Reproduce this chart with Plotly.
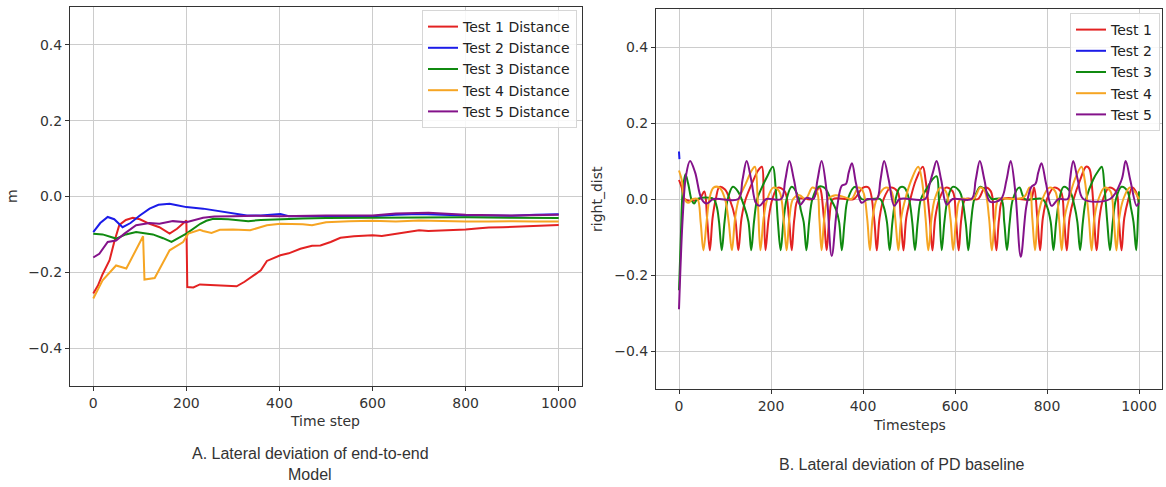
import plotly.graph_objects as go

# ---------------- Panel A: end-to-end model (Time step vs m) ----------------
a_t1_t = [0,10,20,35,45,56,70,85,100,121,142,164,180,200,202,215,229,260,290,308,325,344,360,373,390,402,420,445,470,488,510,531,560,580,600,620,650,680,700,720,750,780,800,830,850,880,900,930,950,980,1000]
a_t1_v = [-0.256,-0.235,-0.205,-0.168,-0.12,-0.075,-0.062,-0.056,-0.06,-0.072,-0.081,-0.098,-0.085,-0.063,-0.239,-0.24,-0.232,-0.234,-0.236,-0.237,-0.225,-0.208,-0.195,-0.17,-0.16,-0.155,-0.15,-0.138,-0.13,-0.129,-0.12,-0.109,-0.105,-0.103,-0.102,-0.104,-0.098,-0.092,-0.089,-0.091,-0.09,-0.088,-0.087,-0.084,-0.082,-0.081,-0.08,-0.079,-0.079,-0.077,-0.075]

a_t2_t = [0,15,31,45,63,80,100,121,140,164,180,200,236,272,308,330,360,402,420,450,500,550,600,650,700,750,800,850,900,950,1000]
a_t2_v = [-0.094,-0.07,-0.054,-0.06,-0.081,-0.07,-0.05,-0.032,-0.022,-0.019,-0.023,-0.028,-0.032,-0.039,-0.046,-0.05,-0.05,-0.046,-0.052,-0.052,-0.051,-0.052,-0.052,-0.048,-0.046,-0.048,-0.05,-0.05,-0.051,-0.048,-0.047]

a_t3_t = [0,20,49,70,92,128,150,168,200,230,243,258,290,333,360,400,450,500,600,700,800,900,1000]
a_t3_v = [-0.098,-0.1,-0.111,-0.1,-0.094,-0.1,-0.11,-0.12,-0.098,-0.072,-0.064,-0.059,-0.06,-0.065,-0.062,-0.06,-0.058,-0.057,-0.056,-0.056,-0.055,-0.056,-0.057]

a_t4_t = [0,20,49,71,107,110,132,150,164,193,204,229,236,254,272,300,337,373,402,450,470,500,550,600,650,700,750,800,850,900,950,1000]
a_t4_v = [-0.269,-0.221,-0.182,-0.19,-0.105,-0.219,-0.215,-0.175,-0.142,-0.12,-0.098,-0.088,-0.091,-0.096,-0.088,-0.087,-0.089,-0.076,-0.072,-0.073,-0.076,-0.068,-0.065,-0.064,-0.066,-0.063,-0.065,-0.066,-0.066,-0.065,-0.066,-0.066]

a_t5_t = [0,13,31,49,67,92,121,142,171,200,236,260,300,350,400,450,500,600,650,720,800,900,1000]
a_t5_v = [-0.161,-0.151,-0.12,-0.116,-0.098,-0.076,-0.07,-0.072,-0.065,-0.068,-0.056,-0.053,-0.052,-0.051,-0.052,-0.051,-0.05,-0.05,-0.045,-0.043,-0.048,-0.05,-0.048]

a_names = ["Test 1 Distance", "Test 2 Distance", "Test 3 Distance", "Test 4 Distance", "Test 5 Distance"]

# ---------------- Panel B: PD baseline (Timesteps vs right_dist) ----------------
b_t1_t = [0,6,12,25,45,55,61,67,73,80,88,100,110,122,129,136,145,160,172,180,184,188,195,203,215,230,239,245,251,260,290,305,315,321,327,335,360,380,400,412,424,430,436,445,460,475,482,488,494,503,515,530,536,545,551,557,566,580,595,602,608,614,623,650,665,678,684,690,696,705,740,765,772,779,785,791,800,815,830,837,843,849,858,872,885,892,898,908,914,922,935,950,956,962,968,977,985,993,1000]
b_t1_v = [0.05,0.03,0.0,-0.005,0.0,0.02,-0.05,-0.135,-0.05,0.0,0.032,0.025,0.0,-0.05,-0.135,-0.05,0.0,0.045,0.075,0.085,0.0,-0.135,-0.05,0.0,0.03,0.02,-0.05,-0.135,-0.05,0.0,0.0,0.03,-0.05,-0.135,-0.05,0.0,0.0,0.0,0.03,0.03,-0.05,-0.135,-0.05,0.0,0.03,0.02,-0.05,-0.135,-0.05,0.0,0.05,0.085,0.05,-0.05,-0.135,-0.05,0.0,0.03,0.02,-0.05,-0.135,-0.05,0.0,0.0,0.03,0.02,-0.05,-0.135,-0.05,0.0,0.0,0.0,0.03,-0.05,-0.135,-0.05,0.0,0.03,0.02,-0.05,-0.135,-0.05,0.0,0.05,0.085,0.08,0.03,-0.135,-0.05,0.0,0.03,0.02,-0.05,-0.135,-0.05,0.0,0.03,0.02,-0.01]

b_t2_t = [0,1]
b_t2_v = [0.125,0.105]

b_t3_t = [0,4,8,14,20,28,33,40,75,82,87,93,99,106,117,128,142,151,157,163,170,180,192,204,210,215,221,227,234,245,258,265,271,277,283,290,303,316,330,342,348,354,360,367,383,397,437,445,452,458,464,471,480,490,500,507,513,519,526,540,550,560,565,571,577,584,595,610,623,629,635,642,655,668,680,700,707,713,719,726,740,752,790,800,808,814,820,827,836,850,860,866,872,878,885,900,912,919,925,931,937,943,950,962,975,982,988,994,998,1000]
b_t3_v = [-0.24,-0.1,0.02,0.065,0.04,-0.005,-0.012,0.0,0.0,-0.02,-0.06,-0.135,-0.06,0.0,0.032,0.02,-0.02,-0.06,-0.135,-0.06,0.0,0.03,0.06,0.085,0.03,-0.06,-0.135,-0.06,0.0,0.032,0.01,-0.03,-0.06,-0.135,-0.06,0.0,0.032,0.03,0.0,-0.03,-0.06,-0.135,-0.06,0.0,0.032,0.0,0.0,-0.02,-0.06,-0.135,-0.06,0.0,0.03,0.03,0.0,-0.06,-0.135,-0.06,0.0,0.03,0.05,0.06,0.0,-0.135,-0.06,0.0,0.032,0.02,-0.06,-0.135,-0.06,0.0,0.032,0.02,0.0,0.0,-0.06,-0.135,-0.06,0.0,0.03,0.0,0.0,-0.02,-0.06,-0.135,-0.06,0.0,0.032,0.02,-0.02,-0.06,-0.135,-0.06,0.0,0.05,0.075,0.085,0.03,-0.06,-0.135,-0.06,0.0,0.032,0.02,-0.02,-0.06,-0.135,-0.04,0.02]

b_t4_t = [0,6,12,20,30,40,47,53,60,66,75,88,100,108,115,122,130,145,158,165,171,177,184,192,205,218,228,234,240,248,262,275,290,300,305,310,316,324,340,360,375,390,400,409,415,421,430,450,462,470,477,483,492,505,520,528,536,542,549,556,568,580,590,596,603,612,640,655,665,674,680,687,695,720,750,762,768,774,780,790,805,818,826,832,838,848,860,875,882,891,897,903,912,925,938,945,951,957,966,980,990,1000]
b_t4_v = [0.075,0.05,0.0,-0.01,0.0,0.0,-0.06,-0.135,-0.06,0.0,0.03,0.03,0.0,-0.06,-0.135,-0.05,0.0,0.04,0.075,0.085,0.0,-0.135,-0.05,0.0,0.03,0.02,-0.06,-0.135,-0.05,0.0,0.01,0.0,0.03,0.02,-0.05,-0.135,-0.05,0.0,0.01,0.005,0.0,0.03,0.02,-0.05,-0.135,-0.05,0.0,0.03,0.02,-0.05,-0.135,-0.05,0.0,0.05,0.085,0.05,-0.05,-0.135,-0.05,0.0,0.03,0.02,-0.05,-0.135,-0.05,0.0,0.0,0.03,0.02,-0.05,-0.135,-0.05,0.0,0.0,0.005,0.03,-0.05,-0.135,-0.05,0.0,0.03,0.02,-0.05,-0.135,-0.05,0.0,0.05,0.085,0.05,-0.05,-0.135,-0.05,0.0,0.03,0.02,-0.05,-0.135,-0.05,0.0,0.03,0.02,0.0]

b_t5_t = [0,8,15,24,35,49,60,75,129,138,147,157,167,175,190,222,231,240,250,263,277,292,301,310,320,332,344,354,363,369,376,385,397,410,430,438,446,456,468,480,535,545,552,560,570,582,595,636,645,654,664,676,700,712,721,731,743,755,766,775,781,788,798,810,825,845,850,857,867,879,937,962,971,981,995,1000]
b_t5_v = [-0.29,-0.05,0.06,0.1,0.07,0.0,-0.012,0.0,0.0,0.05,0.1,0.05,-0.01,-0.018,0.0,0.0,0.05,0.1,0.05,-0.015,0.003,0.0,0.05,0.1,0.03,-0.15,-0.02,0.035,0.04,0.07,0.094,0.04,-0.01,0.0,0.0,0.05,0.1,0.05,-0.018,0.0,0.0,0.04,0.07,0.1,0.05,-0.015,0.0,0.0,0.05,0.1,0.05,-0.007,0.0,0.05,0.1,0.02,-0.152,-0.02,0.032,0.04,0.07,0.094,0.04,-0.018,0.0,0.0,0.05,0.1,0.05,0.0,0.0,0.05,0.1,0.05,-0.018,-0.01]

b_names = ["Test 1", "Test 2", "Test 3", "Test 4", "Test 5"]

colors = ["#e32222", "#1c1ce8", "#108a10", "#f6a523", "#84128a"]

tick_vals_y = [-0.4, -0.2, 0.0, 0.2, 0.4]
tick_text_y = ["\u22120.4", "\u22120.2", "0.0", "0.2", "0.4"]
tick_vals_x = [0, 200, 400, 600, 800, 1000]

A = [(a_t1_t, a_t1_v), (a_t2_t, a_t2_v), (a_t3_t, a_t3_v), (a_t4_t, a_t4_v), (a_t5_t, a_t5_v)]
B = [(b_t1_t, b_t1_v), (b_t2_t, b_t2_v), (b_t3_t, b_t3_v), (b_t4_t, b_t4_v), (b_t5_t, b_t5_v)]

fig = go.Figure()
for i, (t, v) in enumerate(A):
    fig.add_trace(go.Scatter(x=t, y=v, mode="lines", name=a_names[i],
                             line=dict(color=colors[i], width=2),
                             xaxis="x", yaxis="y", legend="legend"))
for i, (t, v) in enumerate(B):
    fig.add_trace(go.Scatter(x=t, y=v, mode="lines", name=b_names[i],
                             line=dict(color=colors[i], width=2, shape="spline", smoothing=1.0),
                             xaxis="x2", yaxis="y2", legend="legend2"))

W, H = 1166, 487
axis_common = dict(showline=True, linecolor="#333333", linewidth=1, mirror=True,
                   ticks="outside", ticklen=4, tickcolor="#333333",
                   showgrid=True, gridcolor="#cccccc", gridwidth=1, zeroline=False,
                   tickfont=dict(family="DejaVu Sans", size=14, color="#333333"))

leg_common = dict(xanchor="right", yanchor="top",
                  bgcolor="rgba(255,255,255,0.85)", bordercolor="#d6d6d6", borderwidth=1,
                  font=dict(family="DejaVu Sans", size=14, color="#222222"),
                  itemwidth=30)

fig.update_layout(
    width=W, height=H,
    margin=dict(l=0, r=0, t=0, b=0),
    paper_bgcolor="white", plot_bgcolor="white",
    showlegend=True,
    xaxis=dict(domain=[70/W, 582/W], range=[-50, 1050], anchor="y",
               tickvals=tick_vals_x, **axis_common),
    yaxis=dict(domain=[1-386/H, 1-7/H], range=[-0.5, 0.5], anchor="x",
               tickvals=tick_vals_y, ticktext=tick_text_y, **axis_common),
    xaxis2=dict(domain=[656/W, 1162/W], range=[-50, 1050], anchor="y2",
                tickvals=tick_vals_x, **axis_common),
    yaxis2=dict(domain=[1-389/H, 1-9/H], range=[-0.5, 0.5], anchor="x2",
                tickvals=tick_vals_y, ticktext=tick_text_y, **axis_common),
    legend=dict(x=577/W, y=1-10/H, **leg_common),
    legend2=dict(x=1160/W, y=1-13/H, **leg_common),
)

ann_font = dict(family="DejaVu Sans", size=14, color="#333333")
cap_font = dict(family="Liberation Sans, Arial", size=16, color="#333333")
annotations = [
    dict(text="Time step", x=325/W, y=1-421/H, font=ann_font),
    dict(text="Timesteps", x=910/W, y=1-425/H, font=ann_font),
    dict(text="m", x=12/W, y=1-196/H, font=ann_font, textangle=-90),
    dict(text="right_dist", x=597/W, y=1-199/H, font=ann_font, textangle=-90),
    dict(text="A. Lateral deviation of end-to-end", x=310/W, y=1-453/H, font=cap_font),
    dict(text="Model", x=310/W, y=1-474/H, font=cap_font),
    dict(text="B. Lateral deviation of PD baseline", x=902/W, y=1-464/H, font=cap_font),
]
for a in annotations:
    a.update(xref="paper", yref="paper", showarrow=False, xanchor="center", yanchor="middle")
fig.update_layout(annotations=annotations)

fig.write_html("out.html", config={"displayModeBar": False},
               post_script="document.body.style.margin='0';document.body.style.padding='0';"
                           "document.documentElement.style.overflow='hidden';")
